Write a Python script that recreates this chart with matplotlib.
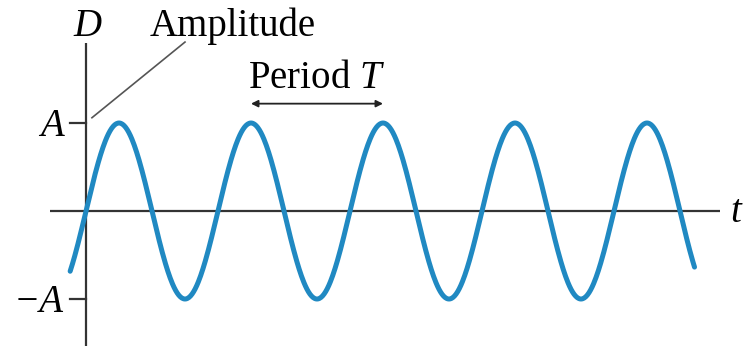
import numpy as np
import matplotlib
matplotlib.use("Agg")
import matplotlib.pyplot as plt

# wave parameters (time in units of the period)
AMPLITUDE = 1.0
PERIOD = 1.0
T_START = -0.12
T_END = 4.61

# axis extents
T_AXIS = [-0.27, 4.80]
D_AXIS = [-1.53, 1.91]

TICK_LABELS = ["A", "\u2212A"]
TICK_VALUES = [AMPLITUDE, -AMPLITUDE]

WAVE_COLOR = "#2089c2"
AXIS_COLOR = "#333333"
FONT = "Liberation Serif"

plt.rcParams["mathtext.fontset"] = "custom"
plt.rcParams["mathtext.rm"] = "Liberation Serif"
plt.rcParams["mathtext.it"] = "Liberation Serif:italic"

fig = plt.figure(figsize=(7.46, 3.51), dpi=100)
ax = fig.add_axes([0, 0, 1, 1])
ax.set_xlim(-0.6515, 5.0)
ax.set_ylim(-1.591, 2.398)
ax.axis("off")

# axes
ax.plot(T_AXIS, [0, 0], color=AXIS_COLOR, lw=1.6, solid_capstyle="butt")
ax.plot([0, 0], D_AXIS, color=AXIS_COLOR, lw=1.6, solid_capstyle="butt")
for v, lab in zip(TICK_VALUES, TICK_LABELS):
    ax.plot([-0.12, 0], [v, v], color=AXIS_COLOR, lw=1.6)
    ax.text(-0.17, v - 0.15, lab, family=FONT, style="italic", fontsize=28,
            ha="right", va="baseline")

# the wave
t = np.linspace(T_START, T_END, 800)
d = AMPLITUDE * np.sin(2 * np.pi * t / PERIOD)
ax.plot(t, d, color=WAVE_COLOR, lw=3.6, solid_capstyle="round", zorder=3)

# labels
ax.text(0.01, 1.99, "D", family=FONT, style="italic", fontsize=28,
        ha="center", va="baseline")
ax.text(4.88, -0.13, "t", family=FONT, style="italic", fontsize=28,
        ha="left", va="baseline")
ax.text(0.48, 1.99, "Amplitude", family=FONT, fontsize=28,
        ha="left", va="baseline")
ax.plot([0.045, 0.75], [1.06, 1.92], color="#555555", lw=1.2)

ax.text(1.75, 1.40, "Period $T$", family=FONT, fontsize=28,
        ha="center", va="baseline")
ax.annotate("", xy=(1.25, 1.22), xytext=(2.25, 1.22),
            arrowprops=dict(arrowstyle="<|-|>", color="#222222", lw=1.3,
                            mutation_scale=10, shrinkA=0, shrinkB=0))

fig.savefig("out.png", dpi=100)
